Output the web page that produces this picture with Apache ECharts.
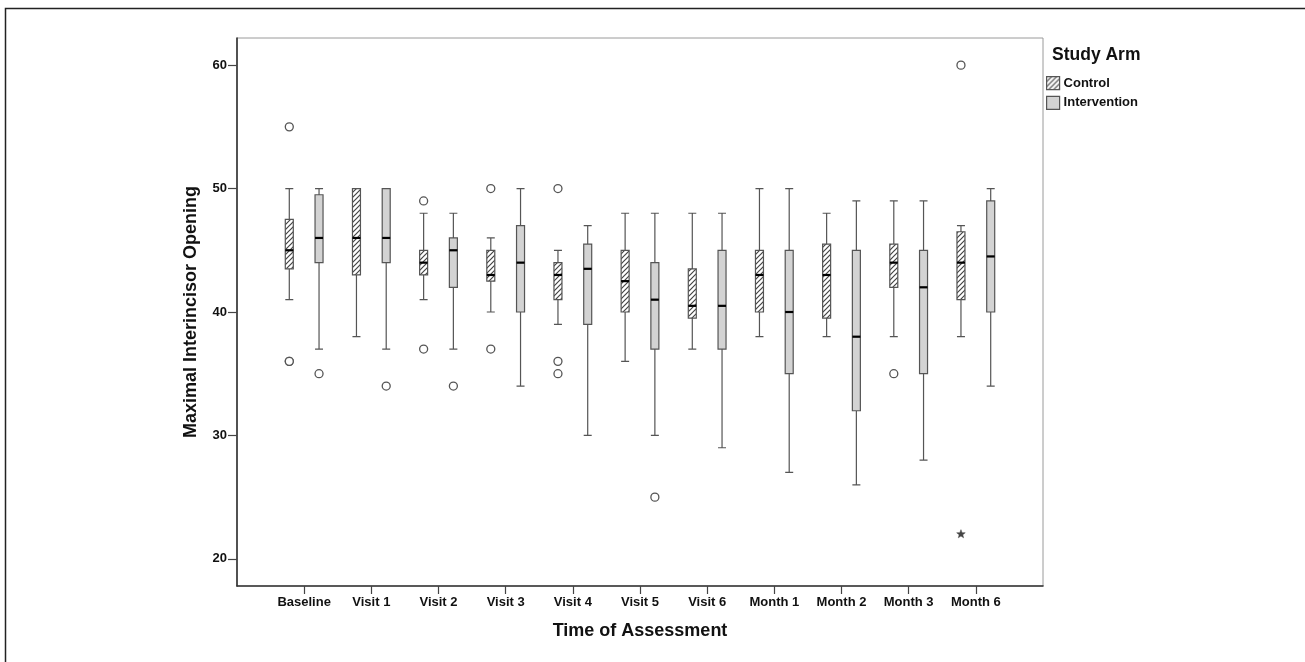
<!DOCTYPE html>
<html><head><meta charset="utf-8">
<script src="https://cdn.jsdelivr.net/npm/echarts@6/dist/echarts.min.js"></script>
<style>html,body{margin:0;padding:0;background:#fff}#c{width:1305px;height:662px}</style>
</head><body><div id="c"></div>
<script>
// ---- data ----
const categories = ['Baseline','Visit 1','Visit 2','Visit 3','Visit 4','Visit 5','Visit 6','Month 1','Month 2','Month 3','Month 6'];
const seriesNames = ['Control','Intervention'];
// [min, Q1, median, Q3, max]
const controlBoxes = [
  [41, 43.5, 45, 47.5, 50],
  [38, 43, 46, 50, 50],
  [41, 43, 44, 45, 48],
  [40, 42.5, 43, 45, 46],
  [39, 41, 43, 44, 45],
  [36, 40, 42.5, 45, 48],
  [37, 39.5, 40.5, 43.5, 48],
  [38, 40, 43, 45, 50],
  [38, 39.5, 43, 45.5, 48],
  [38, 42, 44, 45.5, 49],
  [38, 41, 44, 46.5, 47]
];
const interventionBoxes = [
  [37, 44, 46, 49.5, 50],
  [37, 44, 46, 50, 50],
  [37, 42, 45, 46, 48],
  [34, 40, 44, 47, 50],
  [30, 39, 43.5, 45.5, 47],
  [30, 37, 41, 44, 48],
  [29, 37, 40.5, 45, 48],
  [27, 35, 40, 45, 50],
  [26, 32, 38, 45, 49],
  [28, 35, 42, 45, 49],
  [34, 40, 44.5, 49, 50]
];
// [category index, value]
const controlOutliers = [[0,55],[0,36],[0,36],[2,49],[2,37],[3,50],[3,37],[4,50],[4,36],[4,35],[9,35],[10,60]];
const controlExtremes = [[10,22]];
const interventionOutliers = [[0,35],[1,34],[2,34],[5,25]];
const interventionExtremes = [];
const yTickValues = [20,30,40,50,60];

// ---- helpers ----
const FONT = '"Liberation Sans", Arial, Helvetica, sans-serif';
const axisCats = [''].concat(categories, ['']);

function makeHatch() {
  const s = 5;
  const c = document.createElement('canvas');
  c.width = s; c.height = s;
  const g = c.getContext('2d');
  g.fillStyle = '#ffffff'; g.fillRect(0, 0, s, s);
  g.strokeStyle = '#444'; g.lineWidth = 1.2;
  g.beginPath();
  g.moveTo(0, s); g.lineTo(s, 0);
  g.moveTo(-1, 1); g.lineTo(1, -1);
  g.moveTo(s - 1, s + 1); g.lineTo(s + 1, s - 1);
  g.stroke();
  return c;
}
const hatch = { image: makeHatch(), repeat: 'repeat' };
const controlStyle = { color: hatch, borderColor: '#555', borderWidth: 1.2 };
const interventionStyle = { color: '#d3d3d3', borderColor: '#555', borderWidth: 1.2 };

function boxRows(boxes) { return boxes.map((b, i) => [i + 1].concat(b)); }
function markRows(boxes, outliers, extremes, slot) {
  const rows = [];
  boxes.forEach((b, i) => rows.push([i + 1, b[2], slot, 0]));
  outliers.forEach(o => rows.push([o[0] + 1, o[1], slot, 1]));
  extremes.forEach(o => rows.push([o[0] + 1, o[1], slot, 2]));
  return rows;
}

function renderMarks(params, api) {
  const cat = api.value(0), val = api.value(1), slot = api.value(2), kind = api.value(3);
  const p = api.coord([cat, val]);
  const band = api.size([1, 0])[0];
  // same side-by-side layout rule that the boxplot series uses
  const avail = band * 0.8 - 2;
  const gap = avail / 2 * 0.3;
  const bw = (avail - gap) / 2;
  const off = bw / 2 - avail / 2 + slot * (gap + bw);
  const x = p[0] + off, y = p[1];
  if (kind === 0) {
    return { type: 'line', shape: { x1: x - 4, y1: y, x2: x + 4, y2: y }, style: { stroke: '#000', lineWidth: 2.2 } };
  }
  if (kind === 1) {
    return { type: 'circle', shape: { cx: x, cy: y, r: 4 }, style: { fill: '#fff', stroke: '#555', lineWidth: 1.3 } };
  }
  const pts = [];
  for (let k = 0; k < 10; k++) {
    const r = k % 2 === 0 ? 4.5 : 1.9;
    const a = -Math.PI / 2 + k * Math.PI / 5;
    pts.push([x + r * Math.cos(a), y + r * Math.sin(a)]);
  }
  return { type: 'polygon', shape: { points: pts }, style: { fill: '#444', stroke: '#444', lineWidth: 0.5 } };
}

const chart = echarts.init(document.getElementById('c'), null, { renderer: 'canvas' });
chart.setOption({
  animation: false,
  backgroundColor: '#fff',
  textStyle: { fontFamily: FONT },
  title: {
    text: 'Study Arm', left: 1052, top: 46, padding: 0,
    textStyle: { fontSize: 17.5, fontWeight: 'bold', color: '#111', fontFamily: FONT }
  },
  legend: {
    orient: 'vertical', left: 1046, top: 76, padding: 0,
    itemWidth: 13, itemHeight: 13, itemGap: 5.5,
    icon: 'rect', selectedMode: false,
    data: [
      { name: seriesNames[0], icon: 'rect', itemStyle: controlStyle },
      { name: seriesNames[1], icon: 'rect', itemStyle: interventionStyle }
    ],
    textStyle: { fontSize: 13, fontWeight: 'bold', color: '#111', fontFamily: FONT, padding: [0, 0, 0, -1] }
  },
  grid: { left: 237, top: 38, width: 806, height: 548, show: true, borderColor: '#9a9a9a', borderWidth: 1, containLabel: false },
  xAxis: {
    type: 'category', data: axisCats, boundaryGap: false,
    axisLine: { lineStyle: { color: '#333', width: 1.6 } },
    axisTick: { show: true, length: 8, interval: (i) => i > 0 && i < axisCats.length - 1, lineStyle: { color: '#444', width: 1.2 } },
    axisLabel: { interval: 0, fontSize: 13, fontWeight: 'bold', color: '#111', margin: 10, fontFamily: FONT },
    splitLine: { show: false },
    name: 'Time of Assessment', nameLocation: 'middle', nameGap: 36,
    nameTextStyle: { fontSize: 18, fontWeight: 'bold', color: '#111', fontFamily: FONT }
  },
  yAxis: {
    type: 'value', min: 17.8, max: 62.2,
    axisLine: { show: true, lineStyle: { color: '#333', width: 1.6 } },
    axisTick: { show: true, length: 9, customValues: yTickValues, lineStyle: { color: '#444', width: 1.2 } },
    axisLabel: { customValues: yTickValues, fontSize: 13, fontWeight: 'bold', color: '#111', margin: 10, fontFamily: FONT },
    splitLine: { show: false },
    name: 'Maximal Interincisor Opening', nameLocation: 'middle', nameGap: 37,
    nameTextStyle: { fontSize: 18, fontWeight: 'bold', color: '#111', fontFamily: FONT }
  },
  graphic: [{
    type: 'rect', silent: true, z: -1,
    shape: { x: 5.5, y: 8.5, width: 1400, height: 700 },
    style: { fill: 'none', stroke: '#222', lineWidth: 1.5 }
  }],
  series: [
    {
      name: seriesNames[0], type: 'boxplot', boxWidth: [8, 8],
      encode: { x: 0, y: [1, 2, 3, 4, 5] },
      data: boxRows(controlBoxes),
      itemStyle: controlStyle,
      emphasis: { disabled: true }
    },
    {
      name: seriesNames[1], type: 'boxplot', boxWidth: [8, 8],
      encode: { x: 0, y: [1, 2, 3, 4, 5] },
      data: boxRows(interventionBoxes),
      itemStyle: interventionStyle,
      emphasis: { disabled: true }
    },
    {
      type: 'custom', z: 5, silent: true,
      encode: { x: 0, y: 1 },
      data: markRows(controlBoxes, controlOutliers, controlExtremes, 0)
        .concat(markRows(interventionBoxes, interventionOutliers, interventionExtremes, 1)),
      renderItem: renderMarks
    }
  ]
});
</script>
</body></html>
